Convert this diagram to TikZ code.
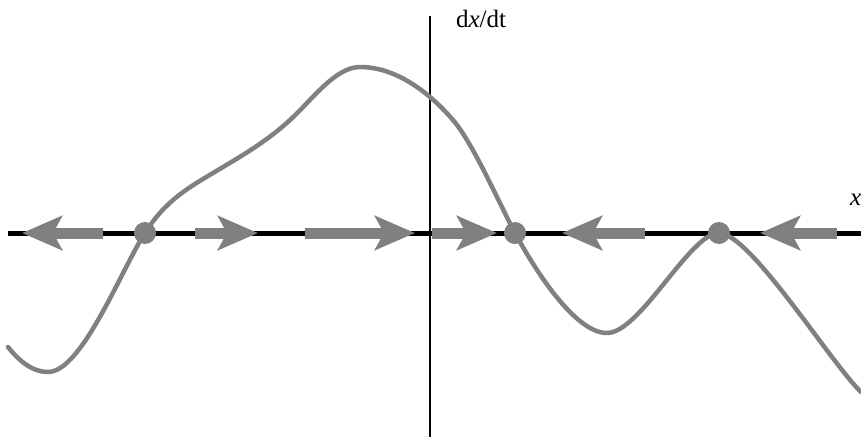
\documentclass[tikz,border=0pt]{standalone}
\usepackage{fontspec}
\setmainfont{Liberation Serif}
\usepackage{tikz}
\usetikzlibrary{arrows.meta,positioning}

\begin{document}
\begin{tikzpicture}[x=1pt, y=-1pt,
    axis/.style={draw, black},
    curve/.style={draw, gray, line width=4.5pt, line cap=round},
    flow/.style={draw, gray, line width=11pt,
        -{Stealth[length=40pt, width=34pt, inset=9pt]}},
    fixpt/.style={circle, fill=gray, inner sep=0pt, minimum size=22pt},
    lbl/.style={inner sep=0pt, font=\fontsize{25}{28}\selectfont}]

    \useasboundingbox (0,0) rectangle (861,437);

    % ====== Axes ======
    \path [axis, line width=5pt] (8,233) -- (861,233);
    \path [axis, line width=2pt] (430,16) -- (430,437);
    \node [lbl, anchor=base] (ylabel) at (481,27) {d\textit{x}/dt};
    \node [lbl, anchor=base west] (xlabel) at (850,205) {\textit{x}};

    % ====== Curve ======
    \path [curve] (8,347)
        .. controls (20,362) and (33,372) .. (48,372)
        .. controls (82,372) and (122,268) .. (145,233)
        .. controls (165,201) and (188,188) .. (213,173)
        .. controls (238,158) and (265,143) .. (290,120)
        .. controls (312,100) and (335,67) .. (360,67)
        .. controls (395,67) and (428,91) .. (453,120)
        .. controls (473,143) and (500,205) .. (515,233)
        .. controls (535,270) and (575,333) .. (607,333)
        .. controls (640,333) and (690,233) .. (719,233)
        .. controls (750,233) and (830,362) .. (861,392);

    % ====== Flow arrows ======
    \foreach \s/\e in {103/22, 195/258, 305/415, 432/497, 645/562, 837/760}
        \path [flow] (\s,233) -- (\e,233);

    % ====== Fixed points ======
    \node [fixpt] (eqA) at (145,233) {};
    \node [fixpt] (eqB) at (515,233) {};
    \node [fixpt] (eqC) at (719,233) {};
\end{tikzpicture}
\end{document}
